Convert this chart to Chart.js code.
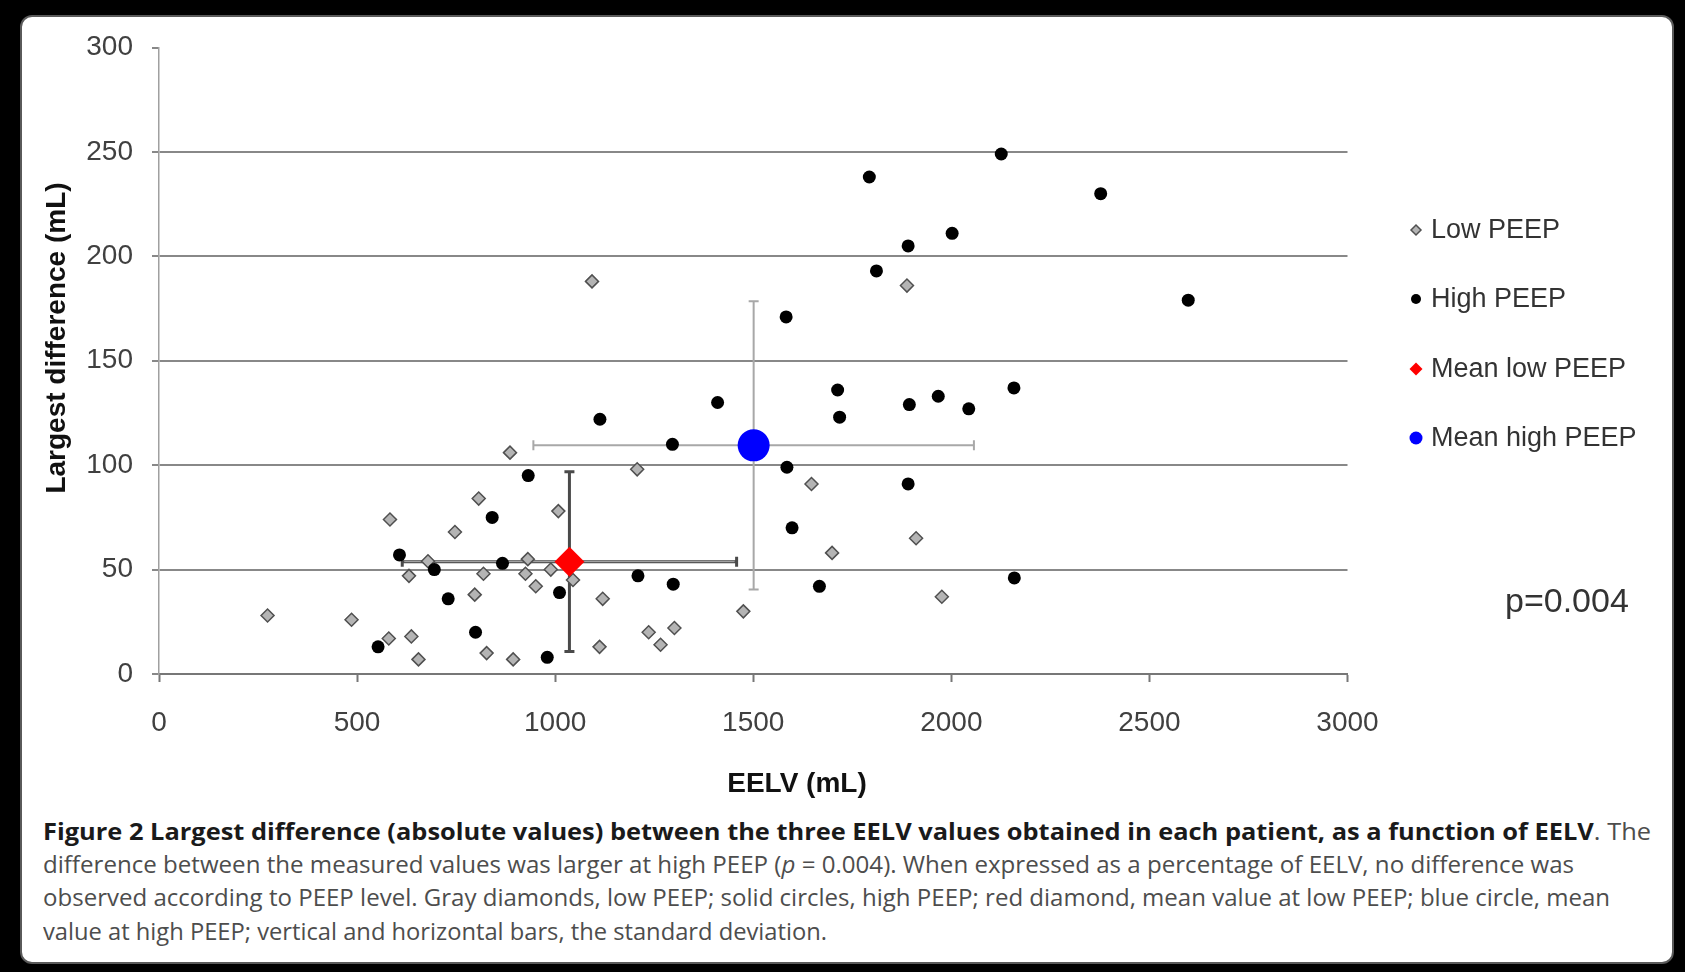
<!DOCTYPE html>
<html>
<head>
<meta charset="utf-8">
<script src="https://cdn.jsdelivr.net/npm/chart.js@4.4.1/dist/chart.umd.min.js"></script>
<style>
	html, body { margin: 0; padding: 0; background: #000; width: 1685px; height: 972px; overflow: hidden; }
	#panel { position: absolute; left: 20px; top: 15px; width: 1650px; height: 945px; background: #fff; border: 2px solid #5a5a5a; border-radius: 12px; }
	#chart { position: absolute; left: 0; top: 0; }
	.cap { position: absolute; left: 43px; white-space: nowrap; font-family: "Open Sans", "Noto Sans", sans-serif; font-size: 23px; line-height: 33px; color: #4d4d4d; transform-origin: 0 50%; }
	.cap b { color: #1a1a1a; }
</style>
</head>
<body>
<div id="panel"></div>
<canvas id="chart" width="1685" height="800"></canvas>
<div class="cap" data-w="1608" style="top:815px"><b>Figure 2 Largest difference (absolute values) between the three EELV values obtained in each patient, as a function of EELV</b>. The</div>
<div class="cap" data-w="1531" style="top:848px">difference between the measured values was larger at high PEEP (<i>p</i> = 0.004). When expressed as a percentage of EELV, no difference was</div>
<div class="cap" data-w="1567" style="top:881px">observed according to PEEP level. Gray diamonds, low PEEP; solid circles, high PEEP; red diamond, mean value at low PEEP; blue circle, mean</div>
<div class="cap" data-w="784" style="top:915px">value at high PEEP; vertical and horizontal bars, the standard deviation.</div>
<script>
// данные
const seriesNames = ["Low PEEP", "High PEEP", "Mean low PEEP", "Mean high PEEP"];

const lowX = [274, 486, 583, 580, 631, 637, 655, 679, 747, 797, 807, 819, 827, 886, 894, 931, 925, 951,
	1008, 989, 1045, 1093, 1120, 1112, 1207, 1236, 1266, 1301, 1475, 1647, 1699, 1888, 1911, 1976];
const lowY = [28, 26, 74, 17, 47, 18, 7, 54, 68, 38, 84, 48, 10, 106, 7, 55, 48, 42,
	78, 50, 45, 188, 36, 13, 98, 20, 14, 22, 30, 91, 58, 186, 65, 37];

const highX = [553, 607, 695, 730, 799, 841, 867, 932, 980, 1011, 1113, 1209, 1296, 1298, 1410, 1583, 1585,
	1598, 1667, 1713, 1718, 1793, 1811, 1891, 1891, 1894, 1967, 2002, 2044, 2126, 2158, 2159, 2377, 2598];
const highY = [13, 57, 50, 36, 20, 75, 53, 95, 8, 39, 122, 47, 110, 43, 130, 171, 99,
	70, 42, 136, 123, 238, 193, 205, 91, 129, 133, 211, 127, 249, 137, 46, 230, 179];

// средние и стандартные отклонения: [low, high]
const meanX = [1036, 1501];
const meanY = [53.8, 109.5];
const sdX = [422, 556];
const sdY = [43, 69];

const pText = "p=0.004";

const font = '"Liberation Sans", Arial, sans-serif';

function toPoints(xs, ys) {
	return xs.map((x, i) => ({ x: x, y: ys[i] }));
}

// стили маркеров по сериям
const markers = [
	{ pointStyle: "rectRot", radius: 6.5, bg: "#b4b4b4", border: "#505050", bw: 1.5 },
	{ pointStyle: "circle", radius: 6.5, bg: "#000000", border: "#000000", bw: 0 },
	{ pointStyle: "rectRot", radius: 15, bg: "#ff0000", border: "#ff0000", bw: 0 },
	{ pointStyle: "circle", radius: 16, bg: "#0000ff", border: "#0000ff", bw: 0 },
];

const seriesData = [
	toPoints(lowX, lowY),
	toPoints(highX, highY),
	[{ x: meanX[0], y: meanY[0] }],
	[{ x: meanX[1], y: meanY[1] }],
];

const datasets = seriesNames.map((name, i) => ({
	label: name,
	data: seriesData[i],
	pointStyle: markers[i].pointStyle,
	pointRadius: markers[i].radius,
	backgroundColor: markers[i].bg,
	borderColor: markers[i].border,
	borderWidth: markers[i].bw,
	order: 4 - i,
}));

// усы стандартного отклонения
const errorBars = {
	id: "errorBars",
	beforeDatasetsDraw(chart) {
		const { ctx, scales: { x, y } } = chart;
		const colors = ["#4a4a4a", "#a8a8a8"];
		const widths = [3, 2];
		const cap = 5;
		meanX.forEach((mx, i) => {
			const cx = x.getPixelForValue(mx);
			const cy = y.getPixelForValue(meanY[i]);
			const x1 = x.getPixelForValue(mx - sdX[i]);
			const x2 = x.getPixelForValue(mx + sdX[i]);
			const y1 = y.getPixelForValue(meanY[i] + sdY[i]);
			const y2 = y.getPixelForValue(meanY[i] - sdY[i]);
			ctx.save();
			ctx.strokeStyle = colors[i];
			ctx.lineWidth = widths[i];
			ctx.beginPath();
			ctx.moveTo(x1, cy); ctx.lineTo(x2, cy);
			ctx.moveTo(x1, cy - cap); ctx.lineTo(x1, cy + cap);
			ctx.moveTo(x2, cy - cap); ctx.lineTo(x2, cy + cap);
			ctx.moveTo(cx, y1); ctx.lineTo(cx, y2);
			ctx.moveTo(cx - cap, y1); ctx.lineTo(cx + cap, y1);
			ctx.moveTo(cx - cap, y2); ctx.lineTo(cx + cap, y2);
			ctx.stroke();
			if (i === 0) {
				// двойная линия как в оригинале
				ctx.strokeStyle = "#b0b0b0";
				ctx.lineWidth = 1;
				ctx.beginPath();
				ctx.moveTo(x1 + 2, cy); ctx.lineTo(x2 - 2, cy);
				ctx.stroke();
			}
			ctx.restore();
		});
	},
};

// легенда, заголовки осей и p-value
const extras = {
	id: "extras",
	afterDraw(chart) {
		const { ctx } = chart;
		ctx.save();
		ctx.fillStyle = "#111";
		ctx.font = "bold 28px " + font;
		ctx.textAlign = "center";
		ctx.textBaseline = "middle";
		ctx.translate(57, 338);
		ctx.rotate(-Math.PI / 2);
		ctx.fillText("Largest difference (mL)", 0, 0);
		ctx.restore();

		ctx.save();
		ctx.fillStyle = "#111";
		ctx.font = "bold 28px " + font;
		ctx.textAlign = "center";
		ctx.textBaseline = "middle";
		ctx.fillText("EELV (mL)", 797, 784);

		ctx.font = "34px " + font;
		ctx.fillStyle = "#333";
		ctx.textAlign = "left";
		ctx.textBaseline = "alphabetic";
		ctx.fillText(pText, 1505, 612);

		const legendY = [230, 299, 369, 438];
		const legendR = [5, 5, 6.5, 6.5];
		ctx.font = "27px " + font;
		ctx.textBaseline = "middle";
		seriesNames.forEach((name, i) => {
			ctx.fillStyle = markers[i].bg;
			ctx.strokeStyle = markers[i].border;
			ctx.lineWidth = markers[i].bw;
			Chart.helpers.drawPoint(ctx, {
				pointStyle: markers[i].pointStyle,
				radius: legendR[i],
				borderWidth: markers[i].bw,
			}, 1416, legendY[i]);
			ctx.fillStyle = "#333";
			ctx.fillText(name, 1431, legendY[i] + 1);
		});
		ctx.restore();
	},
};

const gridGray = "#888888";

new Chart(document.getElementById("chart"), {
	type: "scatter",
	data: { datasets: datasets },
	options: {
		responsive: false,
		animation: false,
		devicePixelRatio: 1,
		events: [],
		layout: { padding: { left: 0, top: 47.5, right: 337.5, bottom: 0 } },
		plugins: {
			legend: { display: false },
			tooltip: { enabled: false },
		},
		scales: {
			x: {
				type: "linear",
				min: 0,
				max: 3000,
				ticks: {
					stepSize: 500,
					padding: 24,
					color: "#404040",
					font: { family: font, size: 28 },
					callback: (v) => String(v),
				},
				grid: { drawOnChartArea: false, drawTicks: true, tickLength: 8, tickColor: "#777", tickWidth: 2 },
				border: { display: true, color: "#777", width: 2 },
				afterFit: (s) => { s.height = 126; },
			},
			y: {
				type: "linear",
				min: 0,
				max: 300,
				ticks: {
					stepSize: 50,
					padding: 19,
					color: "#404040",
					font: { family: font, size: 28 },
					callback: (v) => String(v),
				},
				grid: {
					color: (c) => (c.tick && c.tick.value === 300 ? "rgba(0,0,0,0)" : gridGray),
					lineWidth: 2,
					tickLength: 7,
					tickColor: gridGray,
					tickWidth: 2,
				},
				border: { display: true, color: "#a0a0a0", width: 1.5 },
				afterFit: (s) => { s.width = 159; },
			},
		},
	},
	plugins: [errorBars, extras],
});

// подгоняем подпись по ширине строк
document.querySelectorAll(".cap").forEach((el) => {
	const w = el.getBoundingClientRect().width;
	el.style.transform = "scaleX(" + (Number(el.dataset.w) / w) + ")";
});
</script>
</body>
</html>
